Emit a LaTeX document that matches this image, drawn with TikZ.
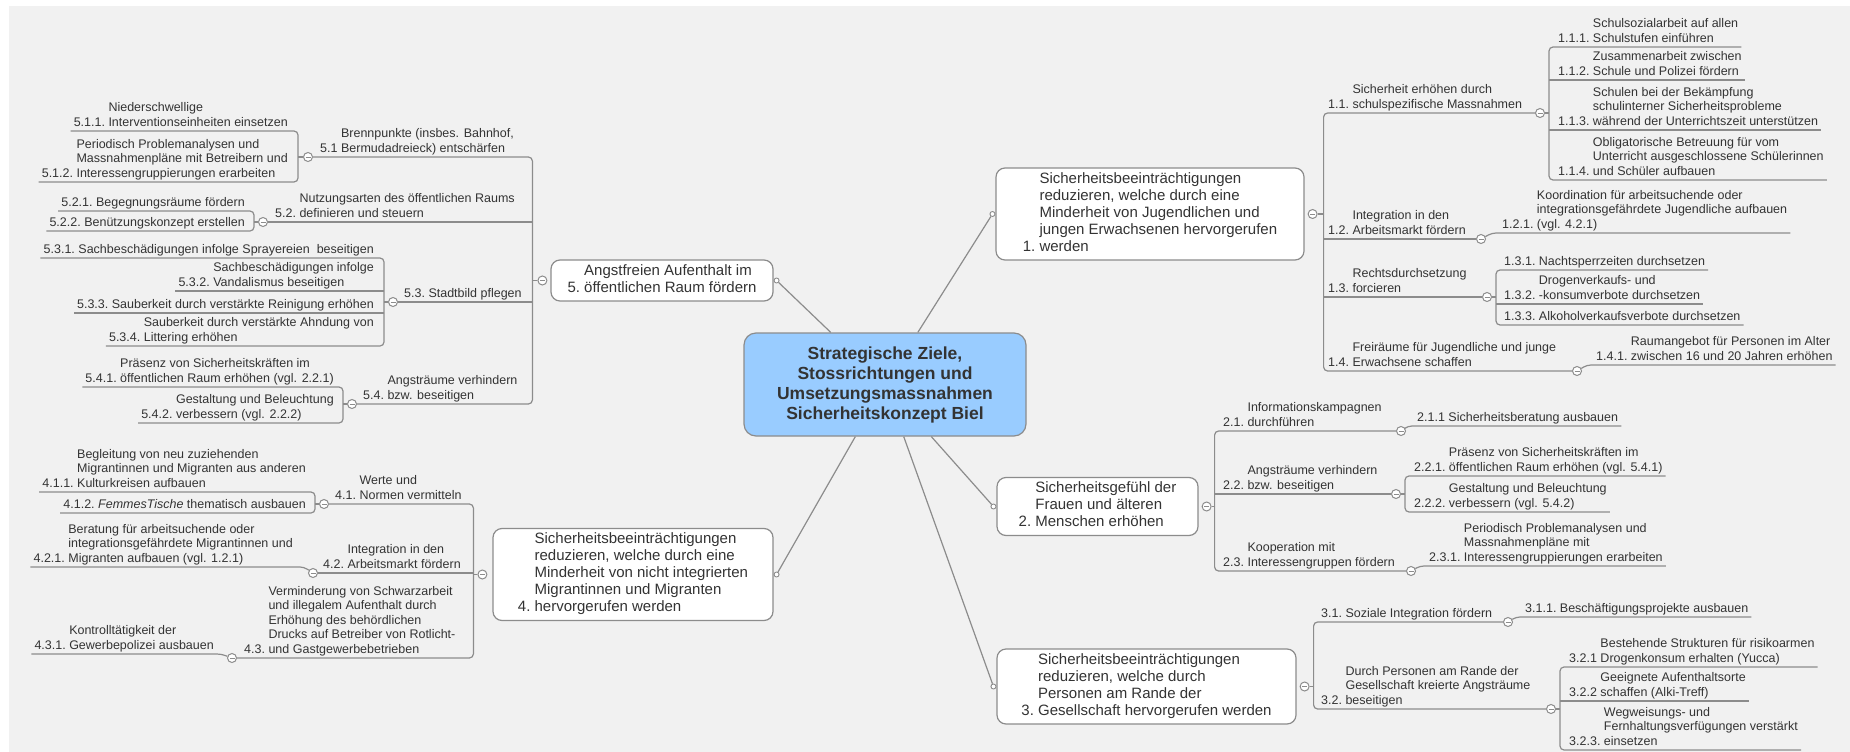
\documentclass[tikz,border=0pt]{standalone}
\usepackage{fontspec}
\setmainfont{Liberation Sans}
\usetikzlibrary{positioning}
\definecolor{txt}{RGB}{51,51,51}
\definecolor{lnc}{RGB}{140,140,140}
\definecolor{bgc}{RGB}{241,241,241}
\definecolor{hubc}{RGB}{153,204,255}
\newcommand{\nr}[2]{\begin{tabular}[b]{@{}l@{}}#1\end{tabular} \begin{tabular}[b]{@{}l@{}}#2\end{tabular}}
\tikzset{
  ln/.style={draw=lnc, line width=1.2pt, rounded corners=4pt},
  item/.style={text=txt, inner xsep=3pt, inner ysep=0pt, font=\fontsize{12.5}{14.5}\selectfont},
  itemr/.style={item, anchor=south west},
  iteml/.style={item, anchor=south east},
  box/.style={draw=lnc, fill=white, line width=1.2pt, rounded corners=9pt, text=txt,
    inner ysep=3.5pt, font=\fontsize{15}{17}\selectfont},
  hub/.style={draw=lnc, fill=hubc, line width=1.2pt, rounded corners=12pt, text=txt, align=center,
    font=\fontsize{17.5}{20}\selectfont\bfseries, minimum width=282pt, minimum height=103pt},
  fold/.style={circle, draw=lnc, fill=white, line width=1pt, minimum size=9pt, inner sep=0pt,
    path picture={\draw[lnc, line width=1pt] ([xshift=-2.5pt]path picture bounding box.center)
      -- ([xshift=2.5pt]path picture bounding box.center);}},
  dot/.style={circle, draw=lnc, fill=white, line width=0.9pt, minimum size=5pt, inner sep=0pt}
}

\begin{document}
\begin{tikzpicture}[x=1pt, y=-1pt]
  \fill[white] (0,0) rectangle (1850,752);
  \fill[bgc] (9,6) rectangle (1850,752);
  \useasboundingbox (0,0) rectangle (1850,752);

  % centre and main topics
  \node[hub] (root) at (885,384.5) {Strategische Ziele,\\Stossrichtungen und\\Umsetzungsmassnahmen\\Sicherheitskonzept Biel};
  \node[box, minimum width=308pt] (b1) at (1150,214) {\nr{1.}{Sicherheitsbeeinträchtigungen\\reduzieren, welche durch eine\\Minderheit von Jugendlichen und\\jungen Erwachsenen hervorgerufen\\werden}};
  \node[box, minimum width=201pt] (b2) at (1097.5,506.5) {\nr{2.}{Sicherheitsgefühl der\\Frauen und älteren\\Menschen erhöhen}};
  \node[box, minimum width=299pt] (b3) at (1146.5,686.5) {\nr{3.}{Sicherheitsbeeinträchtigungen\\reduzieren, welche durch\\Personen am Rande der\\Gesellschaft hervorgerufen werden}};
  \node[box, minimum width=280pt] (b4) at (633,574.5) {\nr{4.}{Sicherheitsbeeinträchtigungen\\reduzieren, welche durch eine\\Minderheit von nicht integrierten\\Migrantinnen und Migranten\\hervorgerufen werden}};
  \node[box, minimum width=222pt] (b5) at (662,280.5) {\nr{5.}{Angstfreien Aufenthalt im\\öffentlichen Raum fördern}};

  \node[dot, left=0pt of b1] (d1) {};
  \node[dot, left=0pt of b2] (d2) {};
  \node[dot, left=0pt of b3] (d3) {};
  \node[dot, right=0pt of b4] (d4) {};
  \node[dot, right=0pt of b5] (d5) {};
  \draw[ln] (root) -- (d1);
  \draw[ln] (root) -- (d2);
  \draw[ln] (root) -- (d3);
  \draw[ln] (root) -- (d4);
  \draw[ln] (root) -- (d5);

  \node[fold, right=3pt of b1] (c1) {};
  \node[fold, right=3pt of b2] (c2) {};
  \node[fold, right=3pt of b3] (c3) {};
  \node[fold, left=5pt of b4] (c4) {};
  \node[fold, left=3pt of b5] (c5) {};
  \coordinate (s1) at ([xshift=6pt]c1.east);
  \coordinate (s2) at ([xshift=3pt]c2.east);
  \coordinate (s3) at ([xshift=4pt]c3.east);
  \coordinate (s4) at ([xshift=-4pt]c4.west);
  \coordinate (s5) at ([xshift=-5pt]c5.west);

  % 1
  \node[itemr] (n11) at (1325,113) {\nr{1.1.}{Sicherheit erhöhen durch\\schulspezifische Massnahmen}};
  \node[fold] (c11) at (1540,113) {};
  \coordinate (s11) at ([xshift=4pt]c11.east);
  \node[itemr] (n111) at (1555,47) {\nr{1.1.1.}{Schulsozialarbeit auf allen\\Schulstufen einführen}};
  \node[itemr] (n112) at (1555,80) {\nr{1.1.2.}{Zusammenarbeit zwischen\\Schule und Polizei fördern}};
  \node[itemr] (n113) at (1555,130) {\nr{1.1.3.}{Schulen bei der Bekämpfung\\schulinterner Sicherheitsprobleme\\während der Unterrichtszeit unterstützen}};
  \node[itemr] (n114) at (1555,180) {\nr{1.1.4.}{Obligatorische Betreuung für vom\\Unterricht ausgeschlossene Schülerinnen\\und Schüler aufbauen}};
  \node[itemr] (n12) at (1325,239) {\nr{1.2.}{Integration in den\\Arbeitsmarkt fördern}};
  \node[fold] (c12) at (1481,239) {};
  \node[itemr] (n121) at (1499,233) {\nr{1.2.1.}{Koordination für arbeitsuchende oder\\integrationsgefährdete Jugendliche aufbauen\\(vgl. 4.2.1)}};
  \node[itemr] (n13) at (1325,297) {\nr{1.3.}{Rechtsdurchsetzung\\forcieren}};
  \node[fold] (c13) at (1487,297) {};
  \coordinate (s13) at ([xshift=4pt]c13.east);
  \node[itemr] (n131) at (1501,270) {\nr{1.3.1.}{Nachtsperrzeiten durchsetzen}};
  \node[itemr] (n132) at (1501,304) {\nr{1.3.2.}{Drogenverkaufs- und\\-konsumverbote durchsetzen}};
  \node[itemr] (n133) at (1501,325) {\nr{1.3.3.}{Alkoholverkaufsverbote durchsetzen}};
  \node[itemr] (n14) at (1325,371) {\nr{1.4.}{Freiräume für Jugendliche und junge\\Erwachsene schaffen}};
  \node[fold] (c14) at (1577,371) {};
  \node[itemr] (n141) at (1593,365) {\nr{1.4.1.}{Raumangebot für Personen im Alter\\zwischen 16 und 20 Jahren erhöhen}};

  \draw[ln] (c11.west) -| (s1) |- (c14.west);
  \draw[ln] (s1 |- c12) -- (c12.west);
  \draw[ln] (s1 |- c13) -- (c13.west);
  \draw[ln] (c1) -- (s1);
  \draw[ln] (n111.south east) -| (s11) |- (n114.south east);
  \draw[ln] (s11 |- n112.south) -- (n112.south east);
  \draw[ln] (s11 |- n113.south) -- (n113.south east);
  \draw[ln] (c11) -- (s11);
  \draw[ln] (c12) -- ([xshift=-7pt]n121.south west) -- (n121.south east);
  \draw[ln] (n131.south east) -| (s13) |- (n133.south east);
  \draw[ln] (s13 |- n132.south) -- (n132.south east);
  \draw[ln] (c13) -- (s13);
  \draw[ln] (c14) -- ([xshift=-6pt]n141.south west) -- (n141.south east);

  % 2
  \node[itemr] (n21) at (1220,431) {\nr{2.1.}{Informationskampagnen\\durchführen}};
  \node[fold] (c21) at (1401,431) {};
  \node[itemr] (n211) at (1414,426) {\nr{2.1.1}{Sicherheitsberatung ausbauen}};
  \node[itemr] (n22) at (1220,494) {\nr{2.2.}{Angsträume verhindern\\bzw. beseitigen}};
  \node[fold] (c22) at (1396,494) {};
  \coordinate (s22) at ([xshift=4pt]c22.east);
  \node[itemr] (n221) at (1411,476) {\nr{2.2.1.}{Präsenz von Sicherheitskräften im\\öffentlichen Raum erhöhen (vgl. 5.4.1)}};
  \node[itemr] (n222) at (1411,512) {\nr{2.2.2.}{Gestaltung und Beleuchtung\\verbessern (vgl. 5.4.2)}};
  \node[itemr] (n23) at (1220,571) {\nr{2.3.}{Kooperation mit\\Interessengruppen fördern}};
  \node[fold] (c23) at (1411,571) {};
  \node[itemr] (n231) at (1426,566) {\nr{2.3.1.}{Periodisch Problemanalysen und\\Massnahmenpläne mit\\Interessengruppierungen erarbeiten}};

  \draw[ln] (c21.west) -| (s2) |- (c23.west);
  \draw[ln] (s2 |- c22) -- (c22.west);
  \draw[ln] (c2) -- (s2);
  \draw[ln] (c21) -- ([xshift=-6pt]n211.south west) -- (n211.south east);
  \draw[ln] (n221.south east) -| (s22) |- (n222.south east);
  \draw[ln] (c22) -- (s22);
  \draw[ln] (c23) -- ([xshift=-6pt]n231.south west) -- (n231.south east);

  % 3
  \node[itemr] (n31) at (1318,622) {\nr{3.1.}{Soziale Integration fördern}};
  \node[fold] (c31) at (1508,622) {};
  \node[itemr] (n311) at (1522,617) {\nr{3.1.1.}{Beschäftigungsprojekte ausbauen}};
  \node[itemr] (n32) at (1318,709) {\nr{3.2.}{Durch Personen am Rande der\\Gesellschaft kreierte Angsträume\\beseitigen}};
  \node[fold] (c32) at (1551,709) {};
  \coordinate (s32) at ([xshift=4pt]c32.east);
  \node[itemr] (n321) at (1566,667) {\nr{3.2.1}{Bestehende Strukturen für risikoarmen\\Drogenkonsum erhalten (Yucca)}};
  \node[itemr] (n322) at (1566,701) {\nr{3.2.2}{Geeignete Aufenthaltsorte\\schaffen (Alki-Treff)}};
  \node[itemr] (n323) at (1566,750) {\nr{3.2.3.}{Wegweisungs- und\\Fernhaltungsverfügungen verstärkt\\einsetzen}};

  \draw[ln] (c31.west) -| (s3) |- (c32.west);
  \draw[ln] (c3) -- (s3);
  \draw[ln] (c31) -- ([xshift=-6pt]n311.south west) -- (n311.south east);
  \draw[ln] (n321.south east) -| (s32) |- (n323.south east);
  \draw[ln] (s32 |- n322.south) -- (n322.south east);
  \draw[ln] (c32) -- (s32);

  % 5
  \node[itemr] (n51) at (317,157) {\nr{5.1}{Brennpunkte (insbes. Bahnhof,\\Bermudadreieck) entschärfen}};
  \node[fold] (c51) at (308,157) {};
  \coordinate (s51) at ([xshift=-5pt]c51.west);
  \node[iteml] (n511) at (291,131) {\nr{5.1.1.}{Niederschwellige\\Interventionseinheiten einsetzen}};
  \node[iteml] (n512) at (291,182) {\nr{5.1.2.}{Periodisch Problemanalysen und\\Massnahmenpläne mit Betreibern und\\Interessengruppierungen erarbeiten}};
  \node[itemr] (n52) at (272,222) {\nr{5.2.}{Nutzungsarten des öffentlichen Raums\\definieren und steuern}};
  \node[fold] (c52) at (263,222) {};
  \coordinate (s52) at ([xshift=-4pt]c52.west);
  \node[iteml] (n521) at (248,211) {\nr{5.2.1.}{Begegnungsräume fördern}};
  \node[iteml] (n522) at (248,231) {\nr{5.2.2.}{Benützungskonzept erstellen}};
  \node[itemr] (n53) at (401,302) {\nr{5.3.}{Stadtbild pflegen}};
  \node[fold] (c53) at (393,302) {};
  \coordinate (s53) at ([xshift=-4pt]c53.west);
  \node[iteml] (n531) at (377,258) {\nr{5.3.1.}{Sachbeschädigungen infolge Sprayereien~ beseitigen}};
  \node[iteml] (n532) at (377,291) {\nr{5.3.2.}{Sachbeschädigungen infolge\\Vandalismus beseitigen}};
  \node[iteml] (n533) at (377,313) {\nr{5.3.3.}{Sauberkeit durch verstärkte Reinigung erhöhen}};
  \node[iteml] (n534) at (377,346) {\nr{5.3.4.}{Sauberkeit durch verstärkte Ahndung von\\Littering erhöhen}};
  \node[itemr] (n54) at (360,404) {\nr{5.4.}{Angsträume verhindern\\bzw. beseitigen}};
  \node[fold] (c54) at (352,404) {};
  \coordinate (s54) at ([xshift=-4pt]c54.west);
  \node[iteml] (n541) at (337,387) {\nr{5.4.1.}{Präsenz von Sicherheitskräften im\\öffentlichen Raum erhöhen (vgl. 2.2.1)}};
  \node[iteml] (n542) at (337,423) {\nr{5.4.2.}{Gestaltung und Beleuchtung\\verbessern (vgl. 2.2.2)}};

  \draw[ln] (c51.east) -| (s5) |- (c54.east);
  \draw[ln] (c52.east) -- (s5 |- c52);
  \draw[ln] (c53.east) -- (s5 |- c53);
  \draw[ln] (c5) -- (s5);
  \draw[ln] (n511.south west) -| (s51) |- (n512.south west);
  \draw[ln] (c51) -- (s51);
  \draw[ln] (n521.south west) -| (s52) |- (n522.south west);
  \draw[ln] (c52) -- (s52);
  \draw[ln] (n531.south west) -| (s53) |- (n534.south west);
  \draw[ln] (s53 |- n532.south) -- (n532.south west);
  \draw[ln] (s53 |- n533.south) -- (n533.south west);
  \draw[ln] (c53) -- (s53);
  \draw[ln] (n541.south west) -| (s54) |- (n542.south west);
  \draw[ln] (c54) -- (s54);

  % 4
  \node[itemr] (n41) at (332,504) {\nr{4.1.}{Werte und\\Normen vermitteln}};
  \node[fold] (c41) at (324,504) {};
  \coordinate (s41) at ([xshift=-4pt]c41.west);
  \node[iteml] (n411) at (309,492) {\nr{4.1.1.}{Begleitung von neu zuziehenden\\Migrantinnen und Migranten aus anderen\\Kulturkreisen aufbauen}};
  \node[iteml] (n412) at (309,513) {\nr{4.1.2.}{\textit{FemmesTische} thematisch ausbauen}};
  \node[itemr] (n42) at (320,573) {\nr{4.2.}{Integration in den\\Arbeitsmarkt fördern}};
  \node[fold] (c42) at (313,573) {};
  \node[iteml] (n421) at (296,567) {\nr{4.2.1.}{Beratung für arbeitsuchende oder\\integrationsgefährdete Migrantinnen und\\Migranten aufbauen (vgl. 1.2.1)}};
  \node[itemr] (n43) at (241,658) {\nr{4.3.}{Verminderung von Schwarzarbeit\\und illegalem Aufenthalt durch\\Erhöhung des behördlichen\\Drucks auf Betreiber von Rotlicht-\\und Gastgewerbebetrieben}};
  \node[fold] (c43) at (232,658) {};
  \node[iteml] (n431) at (217,654) {\nr{4.3.1.}{Kontrolltätigkeit der\\Gewerbepolizei ausbauen}};

  \draw[ln] (c41.east) -| (s4) |- (c43.east);
  \draw[ln] (c42.east) -- (s4 |- c42);
  \draw[ln] (c4) -- (s4);
  \draw[ln] (n411.south west) -| (s41) |- (n412.south west);
  \draw[ln] (c41) -- (s41);
  \draw[ln] (n421.south west) -- ([xshift=8pt]n421.south east) -- (c42);
  \draw[ln] (n431.south west) -- ([xshift=4pt]n431.south east) -- (c43);
\end{tikzpicture}
\end{document}
